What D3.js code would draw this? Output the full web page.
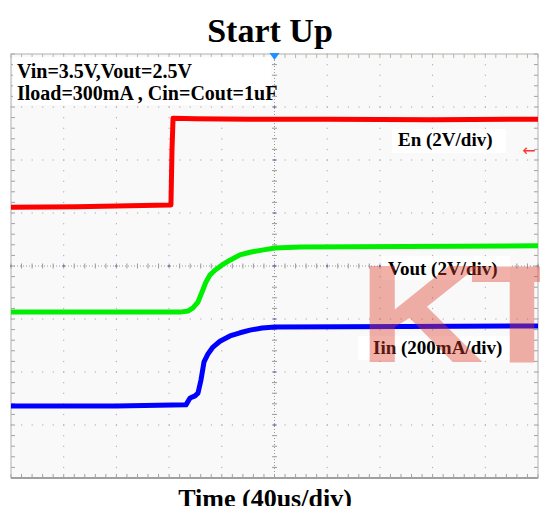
<!DOCTYPE html>
<html>
<head>
<meta charset="utf-8">
<script src="https://cdn.jsdelivr.net/npm/d3@7"></script>
<style>
  html, body { margin: 0; padding: 0; background: #ffffff; }
  svg { display: block; }
</style>
</head>
<body>
<div id="chart"></div>
<script>
// ---------- data (time in µs, 40 µs/div; level in screen divisions) ----------
const titleText = "Start Up";
const xAxisTitle = "Time (40us/div)";
const conditionLines = ["Vin=3.5V,Vout=2.5V", "Iload=300mA , Cin=Cout=1uF"];
const channelLabels = ["En (2V/div)", "Vout (2V/div)", "Iin (200mA/div)"];
const watermarkLetters = ["K", "T"];

const timeDomain = [-200, 200];     // 10 divisions
const levelDomain = [-4, 4];        // 8 divisions
const timeTicks = [-200, -160, -120, -80, -40, 0, 40, 80, 120, 160, 200];
const levelTicks = [-4, -3, -2, -1, 0, 1, 2, 3, 4];

const enTime  = [-200, -150, -100, -79.3, -78.6, -77.8, -77.0, -60, -20, 40, 120, 200];
const enLevel = [1.11, 1.12, 1.14, 1.15, 1.15, 2.19, 2.79, 2.78, 2.77, 2.77, 2.76, 2.77];

const voutTime  = [-200, -120, -71.7, -65.7, -61.9, -58.1, -55.0, -52.0, -49.0, -45.2, -39.8, -33.8, -26.2, -18.6, -9.5, 0.4, 19.4, 100, 200];
const voutLevel = [-0.87, -0.87, -0.87, -0.85, -0.79, -0.68, -0.49, -0.30, -0.17, -0.08, 0.02, 0.11, 0.21, 0.26, 0.30, 0.34, 0.36, 0.37, 0.38];

const iinTime  = [-200, -120, -67.2, -64.1, -60.3, -58.1, -55.8, -53.5, -50.5, -46.7, -41.4, -33.8, -26.2, -18.6, -9.5, 0.4, 100, 200];
const iinLevel = [-2.64, -2.64, -2.62, -2.49, -2.45, -2.40, -2.15, -1.81, -1.66, -1.53, -1.42, -1.32, -1.26, -1.21, -1.17, -1.15, -1.14, -1.13];

// ---------- layout ----------
const W = 540, H = 506;
const plot = { left: 11, right: 538, top: 54, bottom: 478 };

const svg = d3.select("#chart").append("svg")
  .attr("width", W).attr("height", H)
  .attr("viewBox", `0 0 ${W} ${H}`);

const x = d3.scaleLinear().domain(timeDomain).range([plot.left, plot.right]);
const y = d3.scaleLinear().domain(levelDomain).range([plot.bottom, plot.top]);

const serif = "'Liberation Serif', 'Times New Roman', serif";

svg.append("defs").append("clipPath").attr("id", "plotClip")
  .append("rect").attr("x", plot.left).attr("y", plot.top)
  .attr("width", plot.right - plot.left + 2).attr("height", plot.bottom - plot.top);

// title
svg.append("text")
  .attr("x", 270).attr("y", 42)
  .attr("text-anchor", "middle")
  .attr("font-family", serif).attr("font-weight", "bold")
  .attr("font-size", 34).attr("fill", "#000")
  .text(titleText);

// plot background
svg.append("rect")
  .attr("x", plot.left).attr("y", plot.top)
  .attr("width", plot.right - plot.left).attr("height", plot.bottom - plot.top)
  .attr("fill", "#f9f9f9");

const grid = svg.append("g");
const dotColor = "#a8a8a8";
const minorT = 8;     // 1/5 division in µs
const minorL = 0.2;   // 1/5 division in levels

// dotted major gridlines (dots every 1/5 division)
timeTicks.slice(1, -1).forEach(t => {
  if (t === 0) return;
  d3.range(levelDomain[0], levelDomain[1] + 1e-9, minorL).forEach(l => {
    grid.append("rect").attr("x", x(t) - 0.5).attr("y", y(l) - 0.5)
      .attr("width", 1).attr("height", 1.2).attr("fill", dotColor);
  });
});
levelTicks.slice(1, -1).forEach(l => {
  if (l === 0) return;
  d3.range(timeDomain[0], timeDomain[1] + 1e-9, minorT).forEach(t => {
    grid.append("rect").attr("x", x(t) - 0.5).attr("y", y(l) - 0.5)
      .attr("width", 1.2).attr("height", 1).attr("fill", dotColor);
  });
});

// centre cross lines with ticks
grid.append("line")
  .attr("x1", x(0)).attr("x2", x(0)).attr("y1", plot.top).attr("y2", plot.bottom)
  .attr("stroke", "#9a9a9a").attr("stroke-width", 1).attr("stroke-dasharray", "1,2");
grid.append("line")
  .attr("x1", plot.left).attr("x2", plot.right).attr("y1", y(0)).attr("y2", y(0))
  .attr("stroke", "#9a9a9a").attr("stroke-width", 1).attr("stroke-dasharray", "1,2");
d3.range(levelDomain[0], levelDomain[1] + 1e-9, minorL).forEach(l => {
  grid.append("line").attr("x1", x(0) - 2.5).attr("x2", x(0) + 2.5)
    .attr("y1", y(l)).attr("y2", y(l)).attr("stroke", "#9a9a9a").attr("stroke-width", 1);
  grid.append("line").attr("x1", plot.left).attr("x2", plot.left + 4)
    .attr("y1", y(l)).attr("y2", y(l)).attr("stroke", "#a0a0a0").attr("stroke-width", 1);
  grid.append("line").attr("x1", plot.right - 4).attr("x2", plot.right)
    .attr("y1", y(l)).attr("y2", y(l)).attr("stroke", "#a0a0a0").attr("stroke-width", 1);
});
d3.range(timeDomain[0], timeDomain[1] + 1e-9, minorT).forEach(t => {
  grid.append("line").attr("x1", x(t)).attr("x2", x(t))
    .attr("y1", y(0) - 2.5).attr("y2", y(0) + 2.5).attr("stroke", "#9a9a9a").attr("stroke-width", 1);
  grid.append("line").attr("x1", x(t)).attr("x2", x(t))
    .attr("y1", plot.bottom - 4).attr("y2", plot.bottom).attr("stroke", "#a0a0a0").attr("stroke-width", 1);
  grid.append("line").attr("x1", x(t)).attr("x2", x(t))
    .attr("y1", plot.top).attr("y2", plot.top + 4).attr("stroke", "#b8b8a0").attr("stroke-width", 1);
});
// bluish marks at major intersections on the centre lines
timeTicks.forEach(t => {
  grid.append("rect").attr("x", x(t) - 1).attr("y", y(0) - 1).attr("width", 2).attr("height", 2).attr("fill", "#7777bb");
});
levelTicks.forEach(l => {
  grid.append("rect").attr("x", x(0) - 1).attr("y", y(l) - 1).attr("width", 2).attr("height", 2).attr("fill", "#7777bb");
});

// frame
svg.append("rect")
  .attr("x", plot.left).attr("y", plot.top)
  .attr("width", plot.right - plot.left).attr("height", plot.bottom - plot.top)
  .attr("fill", "none").attr("stroke", "#b0b0b0").attr("stroke-width", 1);
svg.append("line").attr("x1", plot.left).attr("x2", plot.right)
  .attr("y1", plot.bottom).attr("y2", plot.bottom)
  .attr("stroke", "#a0a0a0").attr("stroke-width", 2);

// condition text box
const condBox = svg.append("g");
condBox.append("rect").attr("x", plot.left + 2).attr("y", plot.top + 3)
  .attr("width", 258).attr("height", 48).attr("fill", "#ffffff");
conditionLines.forEach((s, i) => {
  condBox.append("text")
    .attr("x", 17).attr("y", 78 + i * 22)
    .attr("font-family", serif).attr("font-weight", "bold")
    .attr("font-size", 20).attr("fill", "#000")
    .text(s);
});

// traces
const line = d3.line().x(d => x(d[0])).y(d => y(d[1]));
const traces = [
  { t: enTime, v: enLevel, color: "#ff0000" },
  { t: voutTime, v: voutLevel, color: "#00ee00" },
  { t: iinTime, v: iinLevel, color: "#0000ff" }
];
traces.forEach(tr => {
  const pts = tr.t.map((t, i) => [t, tr.v[i]]);
  svg.append("path").datum(pts)
    .attr("d", line)
    .attr("fill", "none")
    .attr("stroke", tr.color)
    .attr("stroke-width", 5)
    .attr("stroke-linejoin", "round");
});

// channel labels
const labelPos = [
  { x: 398, y: 146, box: [392, 129, 114, 24] },
  { x: 388, y: 275, box: [382, 256, 128, 24] },
  { x: 373, y: 354, box: [358, 336, 152, 24] }
];
channelLabels.forEach((s, i) => {
  const p = labelPos[i];
  svg.append("rect").attr("x", p.box[0]).attr("y", p.box[1])
    .attr("width", p.box[2]).attr("height", p.box[3]).attr("fill", "#ffffff");
  svg.append("text")
    .attr("x", p.x).attr("y", p.y)
    .attr("font-family", serif).attr("font-weight", "bold")
    .attr("font-size", 19).attr("fill", "#000")
    .text(s);
});

// trigger-level arrow (right) and trigger-position marker (top)
svg.append("text").attr("x", 529).attr("y", 156).attr("text-anchor", "middle")
  .attr("font-family", "DejaVu Sans").attr("font-size", 16).attr("fill", "#ff3333").text("\u2190");
svg.append("path")
  .attr("d", `M${x(0) - 5},${plot.top - 1} L${x(0) + 5},${plot.top - 1} L${x(0)},${plot.top + 6} Z`)
  .attr("fill", "#1e90ff");

// watermark (each letter forced to its measured width)
const wm = svg.append("g").attr("clip-path", "url(#plotClip)");
const wmSpec = [ { x: 358, w: 126 }, { x: 470, w: 104 } ];
watermarkLetters.forEach((ch, i) => {
  wm.append("text")
    .attr("x", wmSpec[i].x).attr("y", 362)
    .attr("font-family", "'Liberation Sans', Arial, sans-serif").attr("font-weight", "bold")
    .attr("font-size", 140)
    .attr("textLength", wmSpec[i].w).attr("lengthAdjust", "spacingAndGlyphs")
    .attr("fill", "#dc3c28").attr("fill-opacity", 0.4)
    .text(ch);
});

// x-axis title
svg.append("text")
  .attr("x", 265).attr("y", 507)
  .attr("text-anchor", "middle")
  .attr("font-family", serif).attr("font-weight", "bold")
  .attr("font-size", 26).attr("fill", "#000")
  .text(xAxisTitle);
</script>
</body>
</html>
